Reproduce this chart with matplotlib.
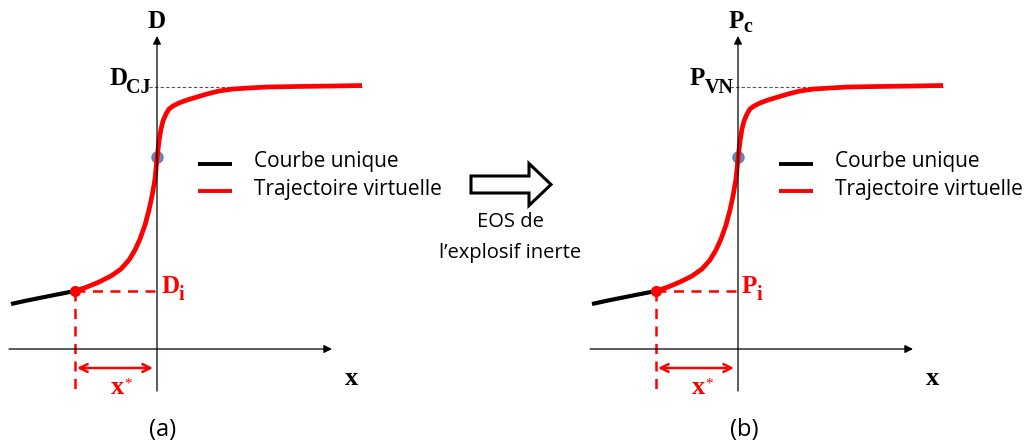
import matplotlib
matplotlib.use("Agg")
import matplotlib.pyplot as plt
from matplotlib.patches import FancyArrow
import numpy as np

# Schematic curve, local coordinates (pixels relative to axis origin, y up)
black_x = [-146, -130, -115, -100, -82]
black_y = [45, 48.5, 51.5, 54.5, 58]
red_x = [-82, -70, -58, -46, -36, -28, -22, -17, -12, -8, -5, -2, 0, 2, 4, 6, 9, 12, 16, 22, 30, 40, 50, 62, 76, 92, 110, 140, 175, 205]
red_y = [58, 62, 67, 73, 80, 89, 99, 110, 124, 139, 153, 170, 190, 208, 220, 228, 235, 240, 243, 246, 249, 252, 255, 258, 260, 261, 262, 262.5, 263, 263.5]
start_x = -82
start_y = 58
mid_y = 192
asym_y = 262
panel_origins = [(157, 349), (738, 349)]
y_main = ['D', 'P']
y_sub = ['', 'c']
top_main = ['D', 'P']
top_sub = ['CJ', 'VN']
init_main = ['D', 'P']
init_sub = ['i', 'i']
panel_tags = ['(a)', '(b)']
legend_texts = ['Courbe unique', 'Trajectoire virtuelle']
middle_text = ['EOS de', '\u2019'.join(['l', 'explosif inerte'])]

RED = '#ff0000'
SERIF = 'Liberation Serif'
fig = plt.figure(figsize=(10.26, 4.46), dpi=100)
ax = fig.add_axes([0, 0, 1, 1])
ax.set_xlim(0, 1026)
ax.set_ylim(446, 0)
ax.axis('off')

sans = 'Open Sans'


def label(x, y, main, sub, color='black', size=18, drop=-1.5):
    t = ax.text(x, y, main, fontsize=size, family=SERIF, weight='bold', color=color, ha='left', va='baseline')
    if sub:
        ax.annotate(sub, xy=(1, 0), xycoords=t, xytext=(-0.5, drop), textcoords='offset points',
                    fontsize=size * 0.8, family=SERIF, weight='bold', color=color, ha='left', va='baseline')
    return t


for i, (ox, oy) in enumerate(panel_origins):
    X = lambda v: ox + np.asarray(v, dtype=float)
    Y = lambda v: oy - np.asarray(v, dtype=float)
    # axes
    ax.annotate('', xy=(ox + 175, oy), xytext=(ox - 148, oy),
                arrowprops=dict(arrowstyle='-|>', color='black', lw=0.9, mutation_scale=12, shrinkA=0, shrinkB=0))
    ax.annotate('', xy=(ox, oy - 313), xytext=(ox, oy + 42),
                arrowprops=dict(arrowstyle='-|>', color='black', lw=0.9, mutation_scale=12, shrinkA=0, shrinkB=0))
    label(ox - 9, oy - 321, y_main[i], y_sub[i], drop=0.5)
    ax.text(ox + 188, oy + 36, 'x', fontsize=19, family=SERIF, weight='bold', ha='left', va='baseline')
    # asymptote dotted line
    ax.plot([ox - 8, ox + 205], [Y(asym_y), Y(asym_y)], color='#555555', lw=0.8, ls=(0, (3, 2)))
    label(ox - 48, oy - 264, top_main[i], top_sub[i], drop=-2.5)
    # dashed red guides
    ax.plot([X(start_x), ox], [Y(start_y), Y(start_y)], color=RED, lw=1.8, ls=(0, (4, 3)))
    ax.plot([X(start_x), X(start_x)], [Y(start_y), oy + 40], color=RED, lw=1.8, ls=(0, (4, 3)))
    ax.annotate('', xy=(ox - 4, oy + 19), xytext=(X(start_x) + 2, oy + 19),
                arrowprops=dict(arrowstyle='<->', color=RED, lw=1.8, mutation_scale=14, shrinkA=0, shrinkB=0))
    t = ax.text(ox - 46, oy + 45, 'x', fontsize=19, family=SERIF, weight='bold', color=RED, ha='left', va='baseline')
    ax.annotate('*', xy=(1, 1), xycoords=t, xytext=(0, -1), textcoords='offset points',
                fontsize=11, family=SERIF, color=RED, ha='left', va='top')
    label(ox + 4, oy - 56, init_main[i], init_sub[i], color=RED, drop=-1.5)
    # curves
    ax.plot(X(black_x), Y(black_y), color='black', lw=3.0, solid_capstyle='butt')
    ax.plot(X(red_x), Y(red_y), color=RED, lw=3.4, solid_capstyle='butt', solid_joinstyle='round')
    ax.plot([X(start_x)], [Y(start_y)], 'o', color=RED, ms=7)
    ax.plot([ox], [Y(mid_y)], 'o', color='#4a7ab5', ms=8, alpha=0.85, zorder=1)
    # legend
    ax.plot([ox + 41, ox + 75], [oy - 185, oy - 185], color='black', lw=2.8, solid_capstyle='butt')
    ax.plot([ox + 41, ox + 75], [oy - 158, oy - 158], color=RED, lw=2.8, solid_capstyle='butt')
    ax.text(ox + 97, oy - 187, legend_texts[0], fontsize=15, family=sans, ha='left', va='center')
    ax.text(ox + 97, oy - 160, legend_texts[1], fontsize=15, family=sans, ha='left', va='center')
    ax.text(ox + 6, oy + 81, panel_tags[i], fontsize=17, family=sans, ha='center', va='center')

# middle block arrow
arr = FancyArrow(471, 184.5, 58, 0, width=17, head_width=42, head_length=22,
                 length_includes_head=False, facecolor='white', edgecolor='black', lw=2.2)
ax.add_patch(arr)
ax.text(510, 222, middle_text[0], fontsize=14.5, family=sans, ha='center', va='center')
ax.text(510, 253, middle_text[1], fontsize=14.5, family=sans, ha='center', va='center')

fig.savefig('out.png', dpi=100)
